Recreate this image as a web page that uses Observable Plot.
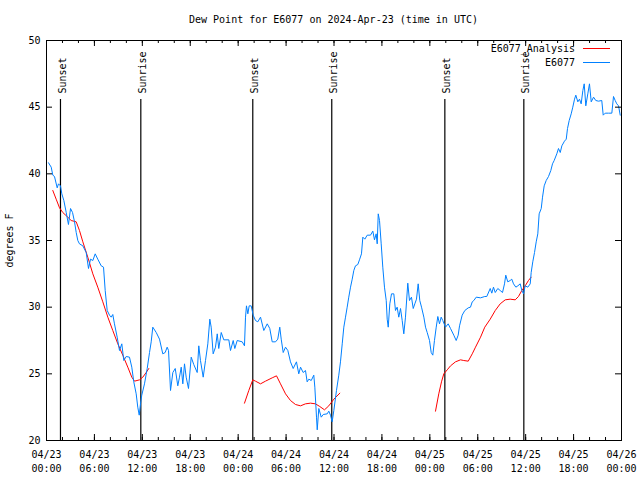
<!DOCTYPE html>
<html><head><meta charset="utf-8">
<script src="https://cdn.jsdelivr.net/npm/d3@7"></script>
<script src="https://cdn.jsdelivr.net/npm/@observablehq/plot@0.6"></script>
<style>
body{margin:0;background:#fff;}
#wrap{position:relative;width:640px;height:480px;font-family:"DejaVu Sans Mono",monospace;font-size:10px;color:#000;background:#fff;}
#title{position:absolute;left:46px;width:575px;top:14px;line-height:12px;text-align:center;white-space:pre;}
.lt{position:absolute;right:65px;line-height:12px;white-space:pre;}
.ll{position:absolute;left:583px;width:27px;height:0;}
#chart svg{display:block;}
</style>
</head><body>
<div id="wrap">
  <div id="chart"></div>
  <div id="title"></div>
  <div id="legend"></div>
</div>
<script>
const titleText = "Dew Point for E6077 on 2024-Apr-23 (time in UTC)";
const yLabel = "degrees F";
const seriesNames = ["E6077_Analysis", "E6077"];
const seriesColors = ["#ff0000", "#0080ff"];

// hours since 2024-04-23 00:00 UTC
const blueHours = [0.25,0.59,0.79,1.00,1.34,1.50,1.75,1.92,2.17,2.47,2.75,3.01,3.26,3.51,3.72,3.92,4.13,4.55,4.97,5.26,5.51,5.80,6.10,6.42,6.85,7.14,7.35,7.60,7.89,8.10,8.30,8.51,8.85,9.14,9.43,9.68,9.98,10.39,10.68,10.93,11.23,11.43,11.61,11.77,11.93,12.27,12.61,12.90,13.11,13.31,13.74,14.15,14.56,14.86,15.11,15.28,15.53,15.82,16.12,16.44,16.65,16.87,17.07,17.28,17.49,17.78,18.12,18.44,18.87,19.07,19.28,19.62,19.91,20.20,20.45,20.62,20.87,21.16,21.38,21.57,21.88,22.20,22.83,23.04,23.38,23.58,23.88,24.51,24.79,24.92,25.04,25.21,25.38,25.63,25.88,26.17,26.46,26.80,27.21,27.64,27.96,28.26,28.68,28.96,29.21,29.39,29.64,29.93,30.22,30.55,30.89,31.30,31.59,31.81,32.14,32.43,32.64,32.85,33.15,33.47,33.60,33.81,33.90,34.10,34.40,34.65,35.15,35.35,35.56,35.77,35.98,36.31,36.60,36.81,37.03,37.23,37.44,37.65,37.85,38.07,38.28,38.48,38.69,38.98,39.19,39.44,39.61,39.86,40.16,40.57,40.86,41.07,41.28,41.41,41.54,41.70,41.91,42.11,42.32,42.54,42.66,42.79,42.99,43.20,43.49,43.70,43.91,44.11,44.33,44.54,44.74,44.95,45.24,45.45,45.70,45.92,46.12,46.33,46.54,46.74,46.96,47.25,47.46,47.67,47.96,48.17,48.37,48.58,48.80,49.00,49.21,49.42,49.62,49.96,50.30,50.59,51.00,51.30,51.55,51.72,52.05,52.38,52.81,53.09,53.31,53.51,53.81,54.35,54.88,55.13,55.56,55.76,55.97,56.19,56.51,56.81,57.10,57.35,57.51,57.76,58.06,58.26,58.48,58.77,59.02,59.32,59.52,59.73,59.94,60.27,60.57,60.69,60.89,61.11,61.32,61.52,61.69,61.95,62.11,62.32,62.57,62.86,63.15,63.36,63.57,63.90,64.11,64.33,64.53,64.86,65.08,65.24,65.45,65.70,65.90,66.12,66.28,66.53,66.74,66.95,67.16,67.33,67.53,67.78,67.99,68.21,68.50,68.78,69.12,69.53,69.71,69.96,70.37,70.79,71.00,71.21,71.41,71.63,71.84];
const blueValues = [40.83,40.5,39.9,39.8,38.95,39.25,39.1,38.5,38.0,37.1,36.2,37.4,37.1,36.4,35.6,35.0,34.75,34.6,34.1,32.9,33.6,33.5,34.0,33.6,33.1,33.0,31.25,29.75,29.4,29.25,29.45,28.75,27.75,26.75,27.25,26.0,26.3,26.25,25.5,24.4,23.5,22.5,21.9,22.75,23.4,24.25,25.4,26.6,27.4,28.5,28.1,27.6,26.5,26.6,27.0,26.75,23.75,25.1,25.4,24.1,24.75,25.5,24.25,25.75,24.75,23.9,26.25,25.7,25.1,27.1,26.0,24.75,26.0,27.25,29.1,28.5,26.5,27.0,28.0,26.9,28.1,27.55,27.55,26.75,27.5,26.9,27.5,27.4,27.1,29.25,30.1,29.5,30.1,30.1,29.4,29.0,28.9,29.25,28.25,28.75,28.4,27.4,27.4,27.6,28.5,27.6,26.6,27.0,26.75,25.9,25.4,25.9,25.0,25.5,25.1,25.25,24.4,24.6,24.5,24.9,24.0,21.75,20.8,22.4,21.75,21.95,22.0,22.2,21.9,21.4,22.25,23.75,24.9,25.9,27.25,28.5,29.25,30.0,30.75,31.5,32.1,32.75,33.1,33.2,33.55,34.0,35.25,35.1,35.4,35.4,35.7,35.05,35.5,34.75,37.0,36.5,34.75,33.0,31.5,30.5,29.1,28.5,30.25,31.0,31.0,29.75,30.0,29.25,29.9,29.0,28.0,29.25,31.8,30.5,30.75,29.9,30.25,30.6,31.75,30.5,30.0,29.25,28.5,28.1,27.5,26.6,26.4,27.5,28.5,29.3,28.75,29.25,29.0,28.5,28.75,28.4,27.9,27.5,27.9,28.6,29.4,29.75,29.95,30.0,30.4,30.5,30.75,30.7,30.8,30.8,31.4,31.05,31.5,31.1,31.4,31.25,31.1,31.75,32.4,31.9,32.0,32.1,31.75,31.5,31.6,31.75,31.25,31.0,31.6,31.5,31.75,32.6,33.4,34.1,34.9,35.5,37.0,37.4,38.25,39.1,39.5,39.8,40.25,40.75,41.0,41.5,41.9,41.6,42.1,42.45,42.6,43.4,44.0,44.5,45.0,45.6,45.9,45.4,45.6,45.25,46.25,46.75,45.1,46.0,46.75,45.4,45.75,45.5,45.45,45.5,44.4,44.55,44.55,44.55,45.8,45.5,45.25,45.1,44.4];

const redHours = [0.79,1.21,1.63,2.04,2.67,3.09,3.72,4.13,4.55,5.17,5.80,6.42,7.05,7.68,8.30,8.93,9.55,10.18,10.68,11.02,11.65,12.06,12.48,12.81,
  24.79,25.33,25.83,26.17,26.80,27.42,28.26,28.80,29.30,29.93,30.55,31.18,31.81,32.43,33.06,33.68,34.22,34.81,35.35,35.98,36.73,
  48.71,49.12,49.46,49.75,50.18,50.59,51.21,51.84,52.25,52.81,53.31,53.72,54.35,54.88,55.56,56.19,56.81,57.44,58.06,58.69,59.10,59.52,59.94,60.35,60.69];
const redValues = [38.75,38.1,37.45,37.1,36.75,36.5,36.4,35.75,34.9,33.75,32.5,31.5,30.4,29.25,28.25,27.25,26.4,25.5,24.75,24.45,24.55,24.75,25.1,25.4,
  22.8,23.75,24.55,24.45,24.25,24.45,24.7,24.85,24.25,23.5,23.0,22.7,22.6,22.75,22.8,22.75,22.55,22.3,22.6,23.1,23.55,
  22.2,23.5,24.4,25.0,25.3,25.6,25.9,26.05,26.0,25.95,26.5,27.0,27.75,28.5,29.1,29.75,30.25,30.55,30.6,30.55,30.8,31.25,31.6,32.0,32.25];
const redSegment = [...Array(24).fill(1), ...Array(21).fill(2), ...Array(25).fill(3)];

const sunHours = [1.75, 11.81, 25.83, 35.72, 49.88, 59.77];
const sunLabels = ["Sunset", "Sunrise", "Sunset", "Sunrise", "Sunset", "Sunrise"];

const yTicks = [20, 25, 30, 35, 40, 45, 50];
const xMajorHours = [0, 6, 12, 18, 24, 30, 36, 42, 48, 54, 60, 66, 72];
const xMinorHours = d3.range(0, 73, 2);

const t0 = Date.UTC(2024, 3, 23);
const toDate = h => new Date(t0 + h * 3600e3);

const blue = blueHours.map((h, i) => ({t: toDate(h), v: blueValues[i]}));
const red = redHours.map((h, i) => ({t: toDate(h), v: redValues[i], seg: redSegment[i]}));
const sun = sunHours.map((h, i) => ({t: toDate(h), label: sunLabels[i]}));
const xMajor = xMajorHours.map(toDate);
const xMinor = xMinorHours.map(toDate);

const W = 640, H = 480, ML = 46, MR = 19, MT = 40, MB = 40;
const PW = W - ML - MR, PH = H - MT - MB;
const fmt = d3.utcFormat("%m/%d\n%H:%M");

const chart = Plot.plot({
  width: W, height: H,
  marginLeft: ML, marginRight: MR, marginTop: MT, marginBottom: MB,
  style: {fontFamily: '"DejaVu Sans Mono", monospace', fontSize: "10px", background: "#fff", color: "#000"},
  x: {type: "utc", domain: [toDate(0), toDate(72)]},
  y: {domain: [20, 50]},
  marks: [
    Plot.ruleX(sun, {x: "t", insetTop: 59, stroke: "#000", strokeWidth: 1.2}),
    Plot.text(sun, {x: "t", text: "label", frameAnchor: "top", dy: 53, dx: -2, rotate: -90, textAnchor: "start", fill: "#000"}),
    Plot.line(red, {x: "t", y: "v", z: "seg", stroke: seriesColors[0], strokeWidth: 1, curve: "linear"}),
    Plot.line(blue, {x: "t", y: "v", stroke: seriesColors[1], strokeWidth: 1, curve: "linear"}),
    // inward ticks
    Plot.tickY(yTicks, {y: d => d, insetRight: PW - 6, stroke: "#000"}),
    Plot.tickY(yTicks, {y: d => d, insetLeft: PW - 6, stroke: "#000"}),
    Plot.tickX(xMinor, {x: d => d, insetTop: PH - 3, stroke: "#000"}),
    Plot.tickX(xMinor, {x: d => d, insetBottom: PH - 3, stroke: "#000"}),
    Plot.tickX(xMajor, {x: d => d, insetTop: PH - 6, stroke: "#000"}),
    Plot.tickX(xMajor, {x: d => d, insetBottom: PH - 6, stroke: "#000"}),
    Plot.axisX({ticks: xMajor, tickFormat: d => fmt(d), tickSize: 0, tickPadding: 7, lineHeight: 1.45, label: null}),
    Plot.axisY({ticks: yTicks, tickSize: 0, tickPadding: 6, label: yLabel, labelAnchor: "center", labelArrow: "none", labelOffset: 41}),
    Plot.frame({stroke: "#000"})
  ]
});
document.getElementById("chart").appendChild(chart);
document.getElementById("title").textContent = titleText;

const legend = document.getElementById("legend");
seriesNames.forEach((name, i) => {
  const cy = 48 + i * 14;
  const t = document.createElement("div");
  t.className = "lt";
  t.style.top = (cy - 5) + "px";
  t.textContent = name;
  legend.appendChild(t);
  const l = document.createElement("div");
  l.className = "ll";
  l.style.top = cy + "px";
  l.style.borderTop = "1px solid " + seriesColors[i];
  legend.appendChild(l);
});
</script>
</body></html>
